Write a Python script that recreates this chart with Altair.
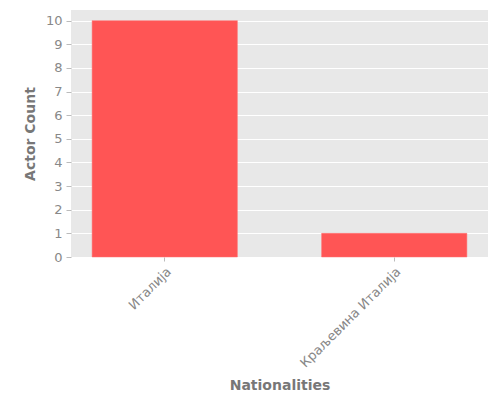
import altair as alt
import pandas as pd

nationalities = ["Италија", "Краљевина Италија"]
counts = [10, 1]
y_ticks = list(range(0, 11))

df = pd.DataFrame({"Nationalities": nationalities, "Actor Count": counts})

chart = alt.Chart(df).mark_bar(color="#FF5555", stroke="#FF7070", strokeWidth=0.5).encode(
    x=alt.X("Nationalities:N", sort=nationalities,
            scale=alt.Scale(paddingInner=0.367, paddingOuter=0.092),
            axis=alt.Axis(labelAngle=-45, title="Nationalities", grid=False,
                          titlePadding=9, tickSize=4)),
    y=alt.Y("Actor Count:Q", scale=alt.Scale(domain=[0, 10.45], nice=False, zero=True),
            axis=alt.Axis(values=y_ticks, title="Actor Count", titlePadding=8,
                          labelOverlap=False)),
).properties(
    width=417, height=247,
    autosize=alt.AutoSizeParams(type="none"),
    padding={"left": 63, "top": 2, "right": 4, "bottom": 138},
).configure_view(
    fill="#E8E8E8", stroke=None
).configure_axis(
    domain=False, gridColor="white", gridWidth=1,
    tickColor="#BBBBBB", tickSize=5, labelColor="#888888", labelFontSize=13,
    titleColor="#777777", titleFontSize=14, titleFontWeight="bold",
    labelFont="DejaVu Sans", titleFont="DejaVu Sans", labelPadding=4
)

chart.save("out.html", embed_options={"renderer": "svg", "actions": False})
